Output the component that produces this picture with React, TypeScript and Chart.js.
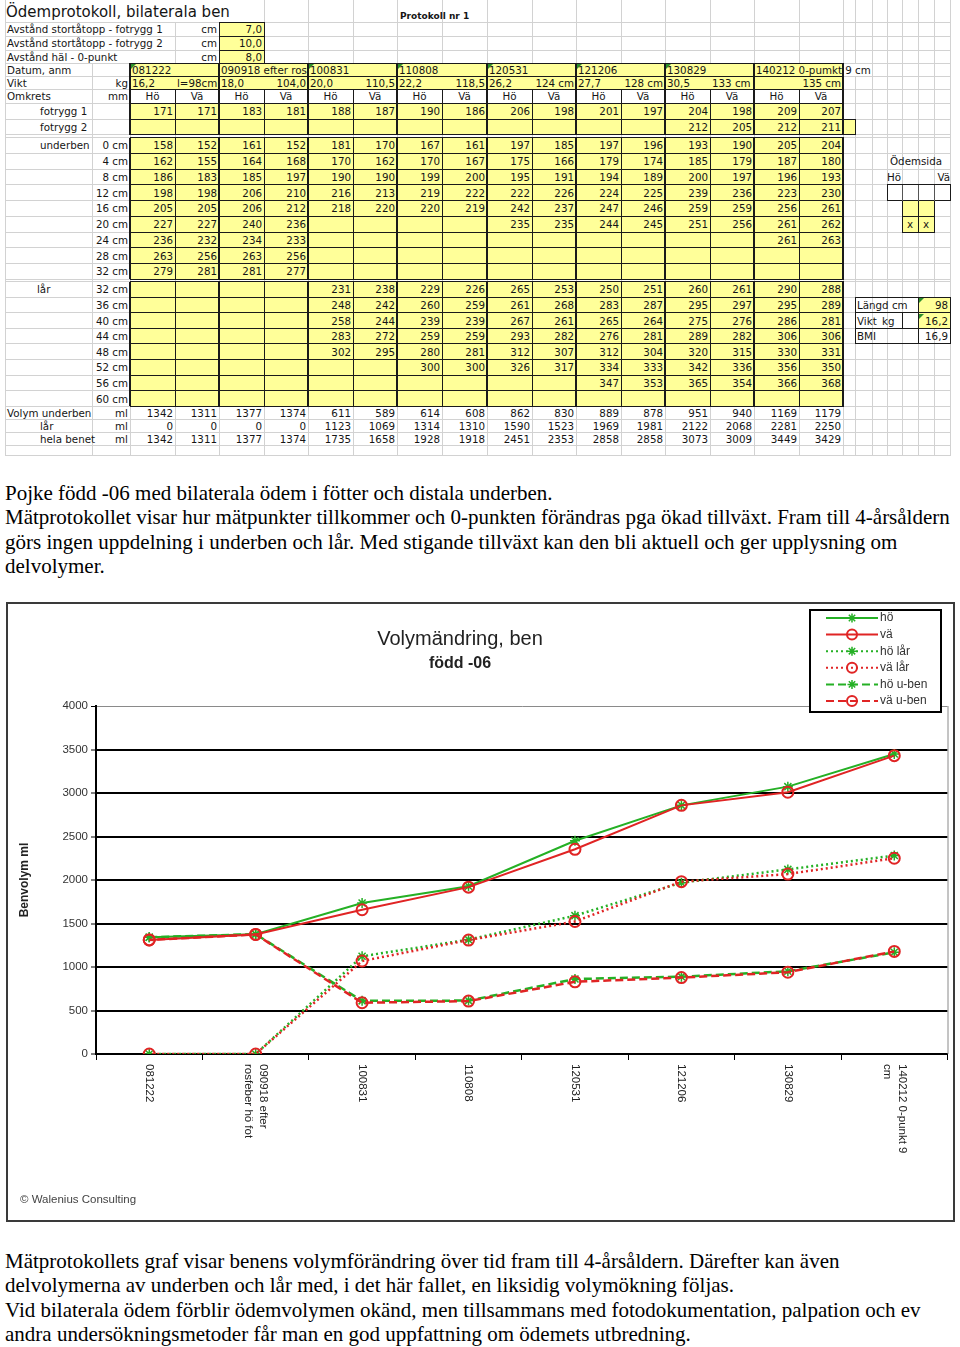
import React, { useEffect, useRef } from 'react';
import { Chart, registerables } from 'chart.js';
import { drawPoint } from 'chart.js/helpers';

Chart.register(...registerables);

// ---------- chart data ----------
const chartLabels: string[][] = [
  ['081222'],
  ['090918 efter', 'rosfeber hö fot'],
  ['100831'],
  ['110808'],
  ['120531'],
  ['121206'],
  ['130829'],
  ['140212 0-punkt 9', 'cm'],
];
const hoWhole = [1342, 1377, 1735, 1928, 2451, 2858, 3073, 3449];
const vaWhole = [1311, 1374, 1658, 1918, 2353, 2858, 3009, 3429];
const hoThigh = [0, 0, 1123, 1314, 1590, 1969, 2122, 2281];
const vaThigh = [0, 0, 1069, 1310, 1523, 1981, 2068, 2250];
const hoLower = [1342, 1377, 611, 614, 862, 889, 951, 1169];
const vaLower = [1311, 1374, 589, 608, 830, 878, 940, 1179];
const seriesNames = ['hö', 'vä', 'hö lår', 'vä lår', 'hö u-ben', 'vä u-ben'];
const chartTitle = 'Volymändring, ben';
const chartSubtitle = 'född -06';
const yAxisTitle = 'Benvolym ml';
const copyright = '© Walenius Consulting';

// ---------- table data ----------
const sheetTitle = 'Ödemprotokoll, bilaterala ben';
const protocolNo = 'Protokoll nr 1';
const distLabels = ['Avstånd stortåtopp - fotrygg 1', 'Avstånd stortåtopp - fotrygg 2', 'Avstånd häl - 0-punkt'];
const distValues = ['7,0', '10,0', '8,0'];
const dates = ['081222', '090918 efter rosfeber hö fot', '100831', '110808', '120531', '121206', '130829', '140212 0-pumkt 9 cm'];
const dateComment = [true, false, true, true, true, true, true, false];
const weights = ['16,2', '18,0', '20,0', '22,2', '26,2', '27,7', '30,5', ''];
const heights = ['l=98cm', '104,0', '110,5', '118,5', '124 cm', '128 cm', '133 cm', '135 cm'];
const heightAlign = ['left', 'right', 'right', 'right', 'right', 'right', 'left', 'right'];
const sides = ['Hö', 'Vä'];
const footRow1 = [171, 171, 183, 181, 188, 187, 190, 186, 206, 198, 201, 197, 204, 198, 209, 207];
const footRow2 = [null, null, null, null, null, null, null, null, null, null, null, null, 212, 205, 212, 211];
const lowerLegLabels = ['0 cm', '4 cm', '8 cm', '12 cm', '16 cm', '20 cm', '24 cm', '28 cm', '32 cm'];
const lowerLeg: (number | null)[][] = [
  [158, 152, 161, 152, 181, 170, 167, 161, 197, 185, 197, 196, 193, 190, 205, 204],
  [162, 155, 164, 168, 170, 162, 170, 167, 175, 166, 179, 174, 185, 179, 187, 180],
  [186, 183, 185, 197, 190, 190, 199, 200, 195, 191, 194, 189, 200, 197, 196, 193],
  [198, 198, 206, 210, 216, 213, 219, 222, 222, 226, 224, 225, 239, 236, 223, 230],
  [205, 205, 206, 212, 218, 220, 220, 219, 242, 237, 247, 246, 259, 259, 256, 261],
  [227, 227, 240, 236, null, null, null, null, 235, 235, 244, 245, 251, 256, 261, 262],
  [236, 232, 234, 233, null, null, null, null, null, null, null, null, null, null, 261, 263],
  [263, 256, 263, 256, null, null, null, null, null, null, null, null, null, null, null, null],
  [279, 281, 281, 277, null, null, null, null, null, null, null, null, null, null, null, null],
];
const thighLabels = ['32 cm', '36 cm', '40 cm', '44 cm', '48 cm', '52 cm', '56 cm', '60 cm'];
const thigh: (number | null)[][] = [
  [null, null, null, null, 231, 238, 229, 226, 265, 253, 250, 251, 260, 261, 290, 288],
  [null, null, null, null, 248, 242, 260, 259, 261, 268, 283, 287, 295, 297, 295, 289],
  [null, null, null, null, 258, 244, 239, 239, 267, 261, 265, 264, 275, 276, 286, 281],
  [null, null, null, null, 283, 272, 259, 259, 293, 282, 276, 281, 289, 282, 306, 306],
  [null, null, null, null, 302, 295, 280, 281, 312, 307, 312, 304, 320, 315, 330, 331],
  [null, null, null, null, null, null, 300, 300, 326, 317, 334, 333, 342, 336, 356, 350],
  [null, null, null, null, null, null, null, null, null, null, 347, 353, 365, 354, 366, 368],
  [null, null, null, null, null, null, null, null, null, null, null, null, null, null, null, null],
];
const volLower = [1342, 1311, 1377, 1374, 611, 589, 614, 608, 862, 830, 889, 878, 951, 940, 1169, 1179];
const volThigh = [0, 0, 0, 0, 1123, 1069, 1314, 1310, 1590, 1523, 1969, 1981, 2122, 2068, 2281, 2250];
const volWhole = [1342, 1311, 1377, 1374, 1735, 1658, 1928, 1918, 2451, 2353, 2858, 2858, 3073, 3009, 3449, 3429];
const infoLabels = ['Längd cm', 'Vikt', 'BMI'];
const infoValues = ['98', '16,2', '16,9'];

const para1 = [
  'Pojke född -06 med bilaterala ödem i fötter och distala underben.',
  'Mätprotokollet visar hur mätpunkter tillkommer och 0-punkten förändras pga ökad tillväxt. Fram till 4-årsåldern',
  'görs ingen uppdelning i underben och lår. Med stigande tillväxt kan den bli aktuell och ger upplysning om',
  'delvolymer.',
];
const para2 = [
  'Mätprotokollets graf visar benens volymförändring över tid fram till 4-årsåldern. Därefter kan även',
  'delvolymerna av underben och lår med, i det här fallet, en liksidig volymökning följas.',
  'Vid bilaterala ödem förblir ödemvolymen okänd, men tillsammans med fotodokumentation, palpation och ev',
  'andra undersökningsmetoder får man en god uppfattning om ödemets utbredning.',
];

// ---------- layout ----------
const COLS = [5, 92, 130, 175, 219, 264, 308, 353, 397, 442, 487, 532, 576, 621, 665, 710, 754, 799, 843, 855, 872, 887, 902, 918, 934, 950];
const D = COLS.slice(2, 19);
const R: number[] = [0, 22, 36, 50, 63, 76, 89, 103, 119, 134.5, 137.5];
for (let i = 1; i <= 9; i++) R.push(137.5 + i * 15.75);
R.push(281.5);
for (let i = 1; i <= 8; i++) R.push(281.5 + i * 15.6);
for (let i = 1; i <= 3; i++) R.push(406.3 + i * 13);
R.push(455);

const YELLOW = '#ffff99';
const GRID = '#d2d2d2';
const INK = '#151515';

function Sheet() {
  const els: React.ReactNode[] = [];
  let k = 0;
  const rect = (x: number, y: number, w: number, h: number, bg: string) =>
    els.push(<div key={k++} style={{ position: 'absolute', left: x, top: y, width: w, height: h, background: bg }} />);
  const hline = (x1: number, x2: number, y: number, c: string, t = 1) => rect(x1, y - t / 2, x2 - x1 + t / 2, t, c);
  const vline = (x: number, y1: number, y2: number, c: string, t = 1) => rect(x - t / 2, y1, t, y2 - y1, c);
  const txt = (x1: number, x2: number, row: number, s: React.ReactNode, align: any = 'left', style: any = {}) => {
    const yc = (R[row] + R[row + 1]) / 2;
    els.push(
      <div key={k++} style={{ position: 'absolute', left: x1, width: x2 - x1, top: yc - 7, height: 14, lineHeight: '14px', textAlign: align, padding: '0 2px', boxSizing: 'border-box', whiteSpace: 'nowrap', overflow: 'hidden', ...style }}>{s}</div>
    );
  };
  const tri = (x: number, y: number) =>
    els.push(<div key={k++} style={{ position: 'absolute', left: x + 1, top: y + 1, width: 0, height: 0, borderTop: '5px solid #2c8f2c', borderRight: '5px solid transparent' }} />);

  // light gridlines
  for (let i = 0; i < R.length - 1; i++) {
    for (const c of COLS) {
      if (i === 0 && [92, 130, 175, 219].includes(c)) continue;
      if (i >= 1 && i <= 3 && [92, 130].includes(c)) continue;
      if (i === 4 && c === 855) continue;
      vline(c, R[i], R[i + 1], GRID);
    }
  }
  for (let j = 1; j < R.length; j++) hline(5, 950, R[j], GRID);

  // yellow fills
  for (let r = 1; r <= 3; r++) rect(219, R[r], 45, R[r + 1] - R[r], YELLOW);
  const yellowRows = [4, 5, 7, 8, 10, 11, 12, 13, 14, 15, 16, 17, 18, 20, 21, 22, 23, 24, 25, 26, 27];
  for (const r of yellowRows) rect(130, R[r], 713, R[r + 1] - R[r], YELLOW);
  rect(843, R[8], 12, R[9] - R[8], YELLOW);
  rect(902, R[14], 32, R[16] - R[14], YELLOW);
  rect(918, R[21], 32, R[23] - R[21], YELLOW);

  // black borders
  const B = '#1a1a1a';
  vline(219, R[1], R[4], B); vline(264, R[1], R[4], B);
  for (let r = 1; r <= 4; r++) hline(219, 264, R[r], B);
  for (let r = 4; r <= 6; r++) hline(130, 843, R[r], B);
  D.forEach((x, i) => { if (i % 2 === 0) vline(x, R[4], R[6], B, 1.5); });
  const blocks: [number, number][] = [[6, 9], [10, 19], [20, 28]];
  for (const [a, b] of blocks) {
    D.forEach((x, i) => vline(x, R[a], R[b], B, i % 2 === 0 ? 1.6 : 1));
    for (let r = a; r <= b; r++) hline(130, 843, R[r], B);
  }
  vline(855, R[8], R[9], B); hline(843, 855, R[8], B); hline(843, 855, R[9], B);
  // Ödemsida box
  hline(887, 950, R[13], B); hline(887, 950, R[14], B);
  vline(887, R[13], R[14], B); vline(950, R[13], R[14], B);
  [902, 918, 934].forEach((x) => vline(x, R[13], R[14], '#555'));
  [902, 918, 934].forEach((x) => vline(x, R[14], R[16], B));
  hline(902, 934, R[15], B); hline(902, 934, R[16], B);
  // info box
  for (let r = 21; r <= 24; r++) hline(855, 950, R[r], B);
  vline(855, R[21], R[24], B); vline(950, R[21], R[24], B); vline(918, R[21], R[24], B);
  vline(902, R[22], R[23], B);

  // comment triangles
  dates.forEach((_, p) => { if (dateComment[p]) tri(D[p * 2], R[4]); });
  tri(918, R[21]); tri(918, R[22]);

  // texts
  els.push(<div key={k++} style={{ position: 'absolute', left: 6, top: 2, fontSize: 15, lineHeight: '20px', whiteSpace: 'nowrap' }}>{sheetTitle}</div>);
  els.push(<div key={k++} style={{ position: 'absolute', left: 400, top: 10, fontSize: 9, fontWeight: 'bold', lineHeight: '12px', whiteSpace: 'nowrap' }}>{protocolNo}</div>);
  distLabels.forEach((s, i) => {
    txt(5, 200, i + 1, s);
    txt(175, 219, i + 1, 'cm', 'right');
    txt(219, 264, i + 1, distValues[i], 'right');
  });
  txt(5, 92, 4, 'Datum, anm');
  dates.forEach((d, p) => {
    const last = p === dates.length - 1;
    txt(D[p * 2], last ? 900 : D[p * 2 + 2], 4, d, 'left', last ? { overflow: 'visible' } : {});
  });
  txt(5, 92, 5, 'Vikt'); txt(92, 130, 5, 'kg', 'right');
  weights.forEach((w, p) => {
    txt(D[p * 2], D[p * 2 + 1], 5, w);
    txt(D[p * 2 + 1], D[p * 2 + 2], 5, heights[p], heightAlign[p], { overflow: 'visible' });
  });
  txt(5, 92, 6, 'Omkrets'); txt(92, 130, 6, 'mm', 'right');
  for (let c = 0; c < 16; c++) txt(D[c], D[c + 1], 6, sides[c % 2], 'center');
  const valueRow = (row: number, vals: (number | null)[]) =>
    vals.forEach((v, c) => { if (v !== null) txt(D[c], D[c + 1], row, String(v), 'right'); });
  txt(38, 100, 7, 'fotrygg 1'); valueRow(7, footRow1);
  txt(38, 100, 8, 'fotrygg 2'); valueRow(8, footRow2);
  txt(38, 100, 10, 'underben');
  lowerLegLabels.forEach((l, i) => { txt(92, 130, 10 + i, l, 'right'); valueRow(10 + i, lowerLeg[i]); });
  txt(35, 92, 20, 'lår');
  thighLabels.forEach((l, i) => { txt(92, 130, 20 + i, l, 'right'); valueRow(20 + i, thigh[i]); });
  txt(5, 100, 28, 'Volym underben', 'left', { overflow: 'visible' }); txt(92, 130, 28, 'ml', 'right'); valueRow(28, volLower);
  txt(38, 100, 29, 'lår'); txt(92, 130, 29, 'ml', 'right'); valueRow(29, volThigh);
  txt(38, 100, 30, 'hela benet', 'left', { overflow: 'visible' }); txt(92, 130, 30, 'ml', 'right'); valueRow(30, volWhole);
  // right side
  txt(888, 955, 11, 'Ödemsida');
  txt(885, 905, 12, 'Hö'); txt(930, 952, 12, 'Vä', 'right');
  txt(902, 918, 15, 'x', 'center'); txt(918, 934, 15, 'x', 'center');
  txt(855, 918, 21, infoLabels[0]); txt(918, 950, 21, infoValues[0], 'right');
  txt(855, 902, 22, infoLabels[1]); txt(880, 902, 22, 'kg'); txt(918, 950, 22, infoValues[1], 'right');
  txt(855, 918, 23, infoLabels[2]); txt(918, 950, 23, infoValues[2], 'right');

  return (
    <div style={{ position: 'absolute', left: 0, top: 0, width: 960, height: 456, fontFamily: '"DejaVu Sans", sans-serif', fontSize: 10.3, color: INK }}>
      {els}
    </div>
  );
}

const GREEN = '#25b025';
const RED = '#e02424';

const CW = 949;
const CH = 620;

const decoPlugin = {
  id: 'deco',
  beforeDraw(chart: any) {
    const { ctx } = chart;
    ctx.save();
    ctx.fillStyle = '#ffffff';
    ctx.fillRect(0, 0, chart.width, chart.height);
    ctx.restore();
  },
  afterDraw(chart: any) {
    const { ctx, chartArea: a } = chart;
    ctx.save();
    // plot area right border
    ctx.strokeStyle = '#8a8a8a';
    ctx.lineWidth = 1;
    ctx.beginPath();
    ctx.moveTo(a.right + 0.5, a.top);
    ctx.lineTo(a.right + 0.5, a.bottom);
    ctx.stroke();
    // outer frame
    ctx.strokeStyle = '#3a3a3a';
    ctx.lineWidth = 2;
    ctx.strokeRect(1, 1, chart.width - 2, chart.height - 2);
    // titles
    ctx.fillStyle = '#222';
    ctx.textAlign = 'center';
    ctx.textBaseline = 'middle';
    ctx.font = '20px "Liberation Sans", Arial, sans-serif';
    ctx.fillText(chartTitle, 454, 37);
    ctx.font = 'bold 16px "Liberation Sans", Arial, sans-serif';
    ctx.fillText(chartSubtitle, 454, 62);
    // y title
    ctx.save();
    ctx.translate(19, 278);
    ctx.rotate(-Math.PI / 2);
    ctx.font = 'bold 12px "Liberation Sans", Arial, sans-serif';
    ctx.fillText(yAxisTitle, 0, 0);
    ctx.restore();
    // x labels rotated clockwise
    const xs = chart.scales.x;
    ctx.font = '11.5px "Liberation Sans", Arial, sans-serif';
    ctx.textAlign = 'left';
    ctx.fillStyle = '#222';
    (chart.data.labels as any[]).forEach((lab, i) => {
      const lines = Array.isArray(lab) ? lab : [lab];
      const px = xs.getPixelForValue(i);
      ctx.save();
      ctx.translate(px, a.bottom + 10);
      ctx.rotate(Math.PI / 2);
      lines.forEach((ln: string, j: number) => ctx.fillText(ln, 0, (j - (lines.length - 1) / 2) * 15));
      ctx.restore();
    });
    // copyright
    ctx.font = '11.5px "Liberation Sans", Arial, sans-serif';
    ctx.fillStyle = '#444';
    ctx.textAlign = 'left';
    ctx.fillText(copyright, 14, 598);
    // legend
    const lx = 804, ly = 8, lw = 131, lh = 102;
    ctx.fillStyle = '#fff';
    ctx.fillRect(lx, ly, lw, lh);
    ctx.strokeStyle = '#000';
    ctx.lineWidth = 2;
    ctx.strokeRect(lx, ly, lw, lh);
    chart.data.datasets.forEach((ds: any, i: number) => {
      const y = ly + 8 + i * 16.6;
      ctx.save();
      ctx.strokeStyle = ds.borderColor;
      ctx.lineWidth = 2;
      ctx.setLineDash(ds.borderDash || []);
      ctx.beginPath();
      ctx.moveTo(lx + 16, y);
      ctx.lineTo(lx + 68, y);
      ctx.stroke();
      ctx.setLineDash([]);
      ctx.strokeStyle = ds.pointBorderColor;
      ctx.fillStyle = 'rgba(0,0,0,0)';
      ctx.lineWidth = ds.pointBorderWidth;
      drawPoint(ctx, { pointStyle: ds.pointStyle, radius: ds.pointRadius - 0.5, rotation: 0, borderWidth: ds.pointBorderWidth } as any, lx + 42, y);
      ctx.restore();
      ctx.fillStyle = '#333';
      ctx.font = '12px "Liberation Sans", Arial, sans-serif';
      ctx.textAlign = 'left';
      ctx.textBaseline = 'middle';
      ctx.fillText(ds.label, lx + 70, y);
    });
    ctx.restore();
  },
};

function VolumeChart() {
  const ref = useRef<HTMLCanvasElement>(null);
  useEffect(() => {
    if (!ref.current) return;
    const mk = (label: string, data: number[], green: boolean, dash: number[], offset: number, width: number) => ({
      label,
      data,
      borderColor: green ? GREEN : RED,
      borderWidth: width,
      borderDash: dash,
      borderDashOffset: offset,
      tension: 0,
      fill: false,
      pointStyle: green ? 'star' : 'circle',
      pointRadius: green ? 5 : 5.5,
      pointBorderColor: green ? GREEN : RED,
      pointBackgroundColor: 'rgba(0,0,0,0)',
      pointBorderWidth: green ? 1.5 : 2,
      order: green ? 1 : 0,
    });
    const chart = new Chart(ref.current, {
      type: 'line',
      data: {
        labels: chartLabels as any,
        datasets: [
          mk(seriesNames[0], hoWhole, true, [], 0, 2),
          mk(seriesNames[1], vaWhole, false, [], 0, 2),
          mk(seriesNames[2], hoThigh, true, [2, 3], 0, 2.5),
          mk(seriesNames[3], vaThigh, false, [2, 3], 2, 2.5),
          mk(seriesNames[4], hoLower, true, [8, 4], 0, 2.5),
          mk(seriesNames[5], vaLower, false, [8, 4], 4, 2.5),
        ] as any,
      },
      options: {
        responsive: false,
        animation: false,
        layout: { padding: { top: 104, right: 7, left: 0, bottom: 0 } },
        plugins: { legend: { display: false }, title: { display: false }, tooltip: { enabled: false } },
        scales: {
          x: {
            type: 'category',
            offset: true,
            grid: { offset: true, drawOnChartArea: false, drawTicks: true, tickLength: 6, color: '#000', lineWidth: 1 },
            border: { color: '#000', width: 2 },
            ticks: { display: false },
            afterFit: (s: any) => { s.height = 168; },
          },
          y: {
            min: 0,
            max: 4000,
            ticks: {
              stepSize: 500,
              color: '#333',
              padding: 3,
              font: { family: '"Liberation Sans", Arial, sans-serif', size: 11.5 },
              callback: (v: any) => String(v),
            },
            grid: {
              color: (c: any) => (c.tick && c.tick.value === 4000 ? '#8a8a8a' : '#000'),
              lineWidth: (c: any) => (c.tick && c.tick.value === 4000 ? 1 : 2),
              tickLength: 5,
              tickColor: '#000',
              tickWidth: 1,
            },
            border: { color: '#000', width: 2 },
            afterFit: (s: any) => { s.width = 90; },
          },
        },
      } as any,
      plugins: [decoPlugin],
    });
    return () => chart.destroy();
  }, []);
  return (
    <div style={{ position: 'absolute', left: 6, top: 602, width: CW, height: CH }}>
      <canvas ref={ref} width={CW} height={CH} style={{ width: CW, height: CH, display: 'block' }} />
    </div>
  );
}

function Para({ lines, top }: { lines: string[]; top: number }) {
  return (
    <>
      {lines.map((l, i) => (
        <div key={i} style={{ position: 'absolute', left: 5, top: top + i * 24.3, fontFamily: '"Liberation Serif", "Times New Roman", serif', fontSize: 21, lineHeight: '24.3px', whiteSpace: 'nowrap', color: '#000' }}>
          {l}
        </div>
      ))}
    </>
  );
}

export default function App() {
  return (
    <div style={{ position: 'absolute', left: 0, top: 0, width: 960, height: 1347, background: '#fff', overflow: 'hidden' }}>
      <Sheet />
      <Para lines={para1} top={481} />
      <VolumeChart />
      <Para lines={para2} top={1249} />
    </div>
  );
}
